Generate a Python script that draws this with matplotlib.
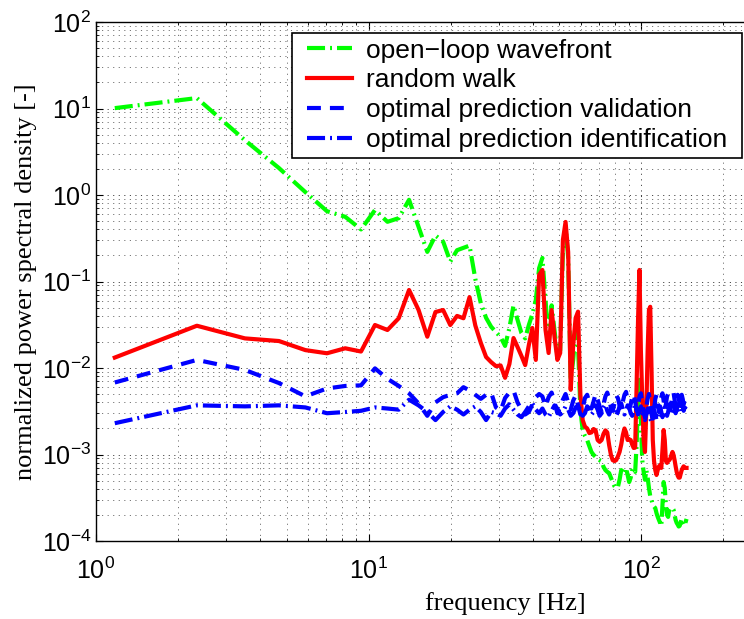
import numpy as np
import matplotlib
matplotlib.use("Agg")
import matplotlib.pyplot as plt
from matplotlib.path import Path

# FFT bin grid (bins 1..125)
freq = np.arange(1, 126) * 1.1719

openloop = [10.1, 13.2, 4.3, 2.05, 1.08, 0.65, 0.56, 0.40, 0.67, 0.49, 0.54, 0.88,
            0.43, 0.22, 0.34, 0.29, 0.17, 0.23, 0.245, 0.26, 0.107, 0.056, 0.038, 0.030,
            0.026, 0.0228, 0.018, 0.029, 0.053, 0.036, 0.0254, 0.022, 0.0314, 0.042,
            0.061, 0.143, 0.187, 0.061, 0.021, 0.053, 0.027, 0.014, 0.016, 0.23,
            0.44, 0.187, 0.0073, 0.0124, 0.027, 0.018,
            0.0033, 0.0019, 0.00164, 0.00147, 0.00125, 0.00107, 0.00099, 0.00094, 0.00089,
            0.00086, 0.00084, 0.00072, 0.00066, 0.00063, 0.00061, 0.00054, 0.00048, 0.00043,
            0.00041, 0.00042, 0.00051, 0.00066, 0.00063, 0.0006, 0.0007,
            0.00058, 0.00048, 0.00054, 0.00066, 0.00069, 0.00063, 0.00129, 0.0043, 0.0073,
            0.0025, 0.00086, 0.00063, 0.00051, 0.00066, 0.00054, 0.00041, 0.00033, 0.0003,
            0.00026, 0.00025, 0.00024, 0.00021, 0.00019, 0.000175, 0.000162,
            0.000149, 0.00026, 0.00048, 0.00041, 0.00026, 0.0002, 0.00019, 0.000228, 0.00024,
            0.00024, 0.00024, 0.00023, 0.0002, 0.000175, 0.000162, 0.000155, 0.000147, 0.00015,
            0.000165, 0.00018, 0.000175, 0.00016, 0.00015, 0.000165, 0.00018]

randwalk = [0.0132, 0.0308, 0.022, 0.0205, 0.0161, 0.0148, 0.0169, 0.0155, 0.0314, 0.0275,
            0.0376, 0.0798, 0.047, 0.023, 0.0444, 0.0468, 0.0314, 0.040, 0.0376, 0.066,
            0.031, 0.0195, 0.0134, 0.0117,
            0.0105, 0.0107, 0.0077, 0.0111, 0.0222, 0.0175, 0.0138, 0.0108, 0.0184, 0.029,
            0.0124, 0.119, 0.136, 0.0275, 0.0149, 0.0468, 0.0228, 0.0124, 0.0149, 0.302,
            0.488, 0.219, 0.0056, 0.0185, 0.0379, 0.0448,
            0.0049, 0.0025, 0.0021, 0.0020, 0.00177, 0.0018, 0.00197, 0.0019, 0.00147, 0.0014,
            0.00147, 0.00173, 0.0019, 0.0018, 0.00129, 0.00099, 0.00086, 0.00084, 0.00086,
            0.00095, 0.00107, 0.0013, 0.00168, 0.002, 0.0018,
            0.00147, 0.0015, 0.00147, 0.0013, 0.00119, 0.0012, 0.0064, 0.036, 0.136, 0.0161,
            0.0043, 0.00147, 0.00107, 0.0033, 0.016, 0.047, 0.051, 0.0095, 0.00147, 0.00084,
            0.00066, 0.00058, 0.00066, 0.00073, 0.00075,
            0.0007, 0.00113, 0.00192, 0.00147, 0.00084, 0.0008, 0.00084, 0.00086, 0.0009,
            0.00099, 0.00107, 0.00099, 0.00086, 0.00073, 0.00063, 0.00057, 0.00054, 0.00054,
            0.0006, 0.00066, 0.0007, 0.00073, 0.0007, 0.0007, 0.0007]

opt_valid = [0.0068, 0.0124, 0.0095, 0.0067, 0.0047, 0.0058, 0.0062, 0.0063, 0.0099, 0.0075,
             0.0062, 0.0051, 0.0039, 0.0028, 0.0040, 0.0046, 0.0049, 0.0051, 0.0060, 0.0055,
             0.0049, 0.0044, 0.0049, 0.0052,
             0.0035, 0.0032, 0.0045, 0.0052, 0.0055, 0.0040, 0.0033, 0.0029, 0.0031, 0.0038,
             0.0046, 0.0050, 0.0047, 0.0036, 0.0046, 0.0052, 0.0040, 0.0030, 0.0035, 0.0043,
             0.0050, 0.0040, 0.0033, 0.0042, 0.0048, 0.0037, 0.0029, 0.0034, 0.0045, 0.0049,
             0.0040, 0.0034, 0.0041, 0.0050, 0.0043, 0.0036, 0.0031, 0.0038, 0.0047, 0.0052,
             0.0044, 0.0035, 0.0032, 0.0039, 0.0048, 0.0045, 0.0037, 0.0033, 0.0041, 0.0049,
             0.0053, 0.0042, 0.0034, 0.0038, 0.0046, 0.0050, 0.0041, 0.0032, 0.0036, 0.0047,
             0.0051, 0.0039, 0.0030, 0.0027, 0.0035, 0.0044, 0.0050, 0.0038, 0.0029, 0.0026,
             0.0033, 0.0044, 0.0049, 0.0040, 0.0031, 0.0036, 0.0046, 0.0051, 0.0042, 0.0033,
             0.0038, 0.0047, 0.0050, 0.0041, 0.0034, 0.0040, 0.0048, 0.0052, 0.0043, 0.0036,
             0.0041, 0.0049, 0.0045, 0.0037, 0.0042, 0.0049, 0.0044, 0.0038, 0.0042, 0.0040,
             0.0038]

opt_ident = [0.0023, 0.0037, 0.0036, 0.0037, 0.0035, 0.0030, 0.0031, 0.0032, 0.0035, 0.0034,
             0.0033, 0.0043, 0.0037, 0.0031, 0.0025, 0.0031, 0.0036, 0.0033, 0.0029, 0.0033,
             0.0036, 0.0031, 0.0025, 0.0031,
             0.0030, 0.0028, 0.0034, 0.0038, 0.0033, 0.0029, 0.0027, 0.0031, 0.0036, 0.0039,
             0.0033, 0.0030, 0.0034, 0.0029, 0.0027, 0.0032, 0.0037, 0.0034, 0.0029, 0.0031,
             0.0036, 0.0033, 0.0028, 0.0030, 0.0035, 0.0038, 0.0032, 0.0028, 0.0030, 0.0036,
             0.0034, 0.0029, 0.0031, 0.0037, 0.0033, 0.0028, 0.0030, 0.0035, 0.0038, 0.0032,
             0.0029, 0.0033, 0.0037, 0.0034, 0.0028, 0.0031, 0.0036, 0.0039, 0.0033, 0.0029,
             0.0032, 0.0037, 0.0035, 0.0030, 0.0028, 0.0033, 0.0038, 0.0034, 0.0029, 0.0031,
             0.0036, 0.0032, 0.0027, 0.0025, 0.0029, 0.0034, 0.0030, 0.0026, 0.0024, 0.0028,
             0.0033, 0.0029, 0.0025, 0.0027, 0.0032, 0.0036, 0.0031, 0.0027, 0.0030, 0.0035,
             0.0032, 0.0028, 0.0031, 0.0036, 0.0033, 0.0029, 0.0032, 0.0037, 0.0034, 0.0030,
             0.0033, 0.0038, 0.0035, 0.0031, 0.0034, 0.0039, 0.0036, 0.0032, 0.0035, 0.0034,
             0.0033]

labels = ["open\u2212loop wavefront", "random walk",
          "optimal prediction validation", "optimal prediction identification"]

plt.rcParams['font.family'] = ['Liberation Sans', 'DejaVu Sans']
plt.rcParams['mathtext.fontset'] = 'custom'
plt.rcParams['mathtext.rm'] = 'Liberation Sans'
plt.rcParams['mathtext.it'] = 'Liberation Sans:italic'
plt.rcParams['lines.scale_dashes'] = False

fig = plt.figure(figsize=(7.44, 6.19), dpi=100)
# axes run past the right edge (the picture is cropped there)
ax = fig.add_axes([96/744, 78/619, 818/744, 519/619])

lw = 3.0
ax.plot(freq, openloop, color=(0, 1, 0), lw=lw, dashes=(13, 3.6, 1.4, 3.6),
        dash_capstyle='butt', label=labels[0])
ax.plot(freq, randwalk, color=(1, 0, 0), lw=lw, label=labels[1])
ax.plot(freq, opt_valid, color=(0, 0, 1), lw=lw, dashes=(10, 6.5),
        dash_capstyle='butt', label=labels[2])
ax.plot(freq, opt_ident, color=(0, 0, 1), lw=lw, dashes=(13, 3.6, 1.4, 3.6),
        dash_capstyle='butt', label=labels[3])

ax.set_xscale('log')
ax.set_yscale('log')
ax.set_xlim(1, 1000)
ax.set_ylim(1e-4, 1e2)
ax.set_xticks([1, 10, 100])

ax.grid(True, which='major', linestyle=(0, (0.8, 3.2)), color='0.25', lw=0.7)
ax.grid(True, which='minor', linestyle=(0, (0.8, 3.2)), color='0.35', lw=0.6)
ax.tick_params(which='both', direction='in', top=True, right=True, labelsize=18)
ax.tick_params(which='major', length=5, width=0.8)
ax.tick_params(which='minor', length=2.5, width=0.6)
ax.tick_params(axis='x', which='major', pad=12)
for s in ax.spines.values():
    s.set_linewidth(1.0)

ax.set_ylabel("normalized power spectral density [-]", family='Liberation Serif',
              fontsize=19)
ax.set_xlabel("frequency [Hz]", family='Liberation Serif', fontsize=19, labelpad=6)
ax.yaxis.set_label_coords(-0.072, 0.5)


def wide_box(x0, y0, width, height, mutation_size):
    # legend frame with extra room left and right
    dx = 9.5
    x0, x1 = x0 - dx, x0 + width + dx
    y1 = y0 + height
    return Path([(x0, y0), (x1, y0), (x1, y1), (x0, y1), (x0, y0)], closed=True)


leg = ax.legend(loc='upper right', bbox_to_anchor=(732.5/744, 1 - 33/619),
                bbox_transform=fig.transFigure, fontsize=19, frameon=True,
                fancybox=False, framealpha=1, edgecolor='black',
                handlelength=1.7, handletextpad=0.52, labelspacing=0.22,
                borderpad=0.21, borderaxespad=0)
leg.get_frame().set_boxstyle(wide_box)
leg.get_frame().set_linewidth(1.2)

fig.savefig("out.png", dpi=100)
